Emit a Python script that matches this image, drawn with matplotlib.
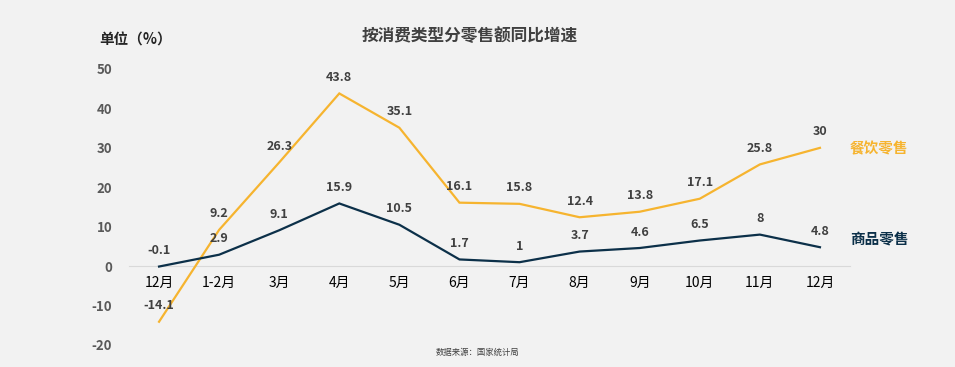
import matplotlib
matplotlib.use("Agg")
import matplotlib.pyplot as plt

plt.rcParams['font.family'] = ['Noto Sans CJK SC', 'DejaVu Sans']

months = ["12月", "1-2月", "3月", "4月", "5月", "6月", "7月", "8月", "9月", "10月", "11月", "12月"]
catering = [-14.1, 9.2, 26.3, 43.8, 35.1, 16.1, 15.8, 12.4, 13.8, 17.1, 25.8, 30]
goods = [-0.1, 2.9, 9.1, 15.9, 10.5, 1.7, 1, 3.7, 4.6, 6.5, 8, 4.8]
catering_labels = ["-14.1", "9.2", "26.3", "43.8", "35.1", "16.1", "15.8", "12.4", "13.8", "17.1", "25.8", "30"]
goods_labels = ["-0.1", "2.9", "9.1", "15.9", "10.5", "1.7", "1", "3.7", "4.6", "6.5", "8", "4.8"]
yticks = [-20, -10, 0, 10, 20, 30, 40, 50]

bg = "#f2f2f2"
orange = "#F6B42F"
navy = "#0C3049"

fig = plt.figure(figsize=(9.55, 3.67), dpi=100, facecolor=bg)
ax = fig.add_axes([129/955, 22/367, 721/955, 276/367], facecolor=bg)

x = list(range(len(months)))
ax.plot(x, catering, color=orange, lw=1.6, solid_joinstyle='miter')
ax.plot(x, goods, color=navy, lw=1.6, solid_joinstyle='miter')

for xi, v, lab in zip(x, catering, catering_labels):
    ax.annotate(lab, (xi, v), xytext=(0, 11.5), textcoords='offset points',
                ha='center', va='center', fontsize=9, fontweight='bold', color='#404040')
for xi, v, lab in zip(x, goods, goods_labels):
    ax.annotate(lab, (xi, v), xytext=(0, 11.5), textcoords='offset points',
                ha='center', va='center', fontsize=9, fontweight='bold', color='#404040')

ax.set_xlim(-0.5, len(months) - 0.5)
ax.set_ylim(-20, 50)
ax.set_yticks(yticks)
ax.set_yticklabels([str(t) for t in yticks], fontsize=9.5, fontweight='bold', color='#595959')
ax.set_xticks(x)
ax.set_xticklabels(months, fontsize=9.5, fontweight='bold', color='#595959')

for s in ['top', 'right', 'left']:
    ax.spines[s].set_visible(False)
ax.spines['bottom'].set_position(('data', 0))
ax.spines['bottom'].set_color('#d9d9d9')
ax.spines['bottom'].set_linewidth(0.8)
ax.spines['bottom'].set_zorder(0)
ax.tick_params(axis='x', length=0, pad=7)
ax.tick_params(axis='y', length=0, pad=12)

# series labels
ax.annotate("餐饮零售", (x[-1], catering[-1]), xytext=(879, 367 - 148), textcoords='figure pixels',
            ha='center', va='center', fontsize=10.5, fontweight='bold', color=orange)
ax.annotate("商品零售", (x[-1], goods[-1]), xytext=(879, 367 - 240), textcoords='figure pixels',
            ha='center', va='center', fontsize=10.5, fontweight='bold', color=navy)

fig.text(470/955, 1 - 36/367, "按消费类型分零售额同比增速", ha='center', va='center',
         fontsize=12, fontweight='bold', color='#404040')
fig.text(99/955, 1 - 40/367, "单位（%）", ha='left', va='center',
         fontsize=10.5, fontweight='bold', color='#262626')
fig.text(478/955, 1 - 352/367, "数据来源：国家统计局", ha='center', va='center',
         fontsize=6, color='#404040')

fig.savefig("out.png", dpi=100, facecolor=bg)
